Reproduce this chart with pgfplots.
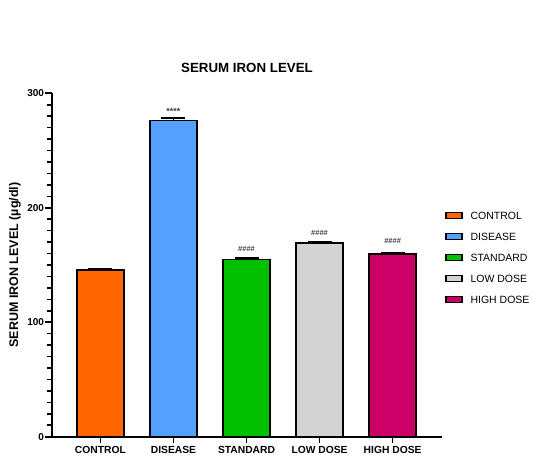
\documentclass[border=0pt]{standalone}
\usepackage{fontspec}
\setmainfont{Liberation Sans}
\usepackage{pgfplots}
\pgfplotsset{compat=1.18}

\definecolor{cControl}{HTML}{FF6600}
\definecolor{cDisease}{HTML}{559FFF}
\definecolor{cStandard}{HTML}{00C000}
\definecolor{cLow}{HTML}{D3D3D3}
\definecolor{cHigh}{HTML}{CC0066}
\definecolor{cNote}{HTML}{404040}

\pgfplotsset{
  serumbar/.style={
    fill=#1, draw=black, line width=1.3bp,
    error bars/.cd, y dir=plus, y explicit,
    error bar style={line width=1.3bp, black},
    error mark options={rotate=90, mark size=12bp, line width=1.3bp, black},
  },
}

\begin{document}
\begin{tikzpicture}
\useasboundingbox (0bp,0bp) rectangle (533bp,461bp);
\begin{axis}[
  at={(51.7bp,24.3bp)}, anchor=south west,
  scale only axis, width=390.6bp, height=343.4bp,
  xmin=-0.667, xmax=4.68, ymin=0, ymax=300,
  clip=false, axis on top,
  ybar, bar width=47bp, bar shift=0pt,
  axis x line*=bottom, axis y line*=left,
  axis line style={line width=1.6bp, -},
  xtick={0,1,2,3,4},
  xticklabels={CONTROL,DISEASE,STANDARD,LOW DOSE,HIGH DOSE},
  ytick={0,100,200,300}, minor y tick num=9,
  xtick align=outside, ytick align=outside,
  major tick length=6.5bp, minor tick length=4.5bp,
  every tick/.style={black, line width=1.6bp},
  every minor tick/.style={black, line width=1.6bp},
  every major tick/.style={black, line width=1.6bp},
  /pgf/number format/assume math mode=true,
  xticklabel style={font=\bfseries\fontsize{10.3bp}{12bp}\selectfont},
  yticklabel style={font=\bfseries\fontsize{10bp}{12bp}\selectfont, inner sep=1bp},
  title={SERUM IRON LEVEL},
  title style={font=\bfseries\fontsize{13.3bp}{15bp}\selectfont, at={(rel axis cs:0.5,1)}, anchor=center, yshift=19bp},
  ylabel={SERUM IRON LEVEL (µg/dl)},
  every axis y label/.style={at={(rel axis cs:0,0.5)}, xshift=-36.7bp, rotate=90, anchor=center,
    font=\bfseries\fontsize{12.5bp}{14bp}\selectfont},
  legend image code/.code={\draw[#1, line width=1.3bp] (0bp,-3bp) rectangle (16bp,3bp);},
  legend cell align=left,
  legend style={at={(rel axis cs:1.007,0.655)}, anchor=north west, draw=none, fill=none,
    font=\fontsize{10.5bp}{12bp}\selectfont, inner sep=0pt, row sep=13.5bp,
    nodes={inner sep=0pt, text height=7.5bp, text depth=0pt},
    /tikz/every odd column/.append style={column sep=8bp}},
]
\addplot[serumbar=cControl]  coordinates {(0,145.5) +- (0,1.3)};
\addplot[serumbar=cDisease]  coordinates {(1,276.2) +- (0,2.2)};
\addplot[serumbar=cStandard] coordinates {(2,154.8) +- (0,1.2)};
\addplot[serumbar=cLow]      coordinates {(3,169.1) +- (0,1.5)};
\addplot[serumbar=cHigh]     coordinates {(4,159.5) +- (0,1.5)};
\legend{CONTROL,DISEASE,STANDARD,LOW DOSE,HIGH DOSE}

% significance marks above the bars
\node[font=\bfseries\fontsize{9bp}{10bp}\selectfont, text=cNote, anchor=south, inner sep=0pt] at (axis cs:1,281.5) {****};
\node[font=\bfseries\fontsize{7.5bp}{9bp}\selectfont, text=cNote, anchor=south, inner sep=0pt] at (axis cs:2,161.5) {\#\#\#\#};
\node[font=\bfseries\fontsize{7.5bp}{9bp}\selectfont, text=cNote, anchor=south, inner sep=0pt] at (axis cs:3,175.5) {\#\#\#\#};
\node[font=\bfseries\fontsize{7.5bp}{9bp}\selectfont, text=cNote, anchor=south, inner sep=0pt] at (axis cs:4,169) {\#\#\#\#};
\end{axis}
\end{tikzpicture}
\end{document}
